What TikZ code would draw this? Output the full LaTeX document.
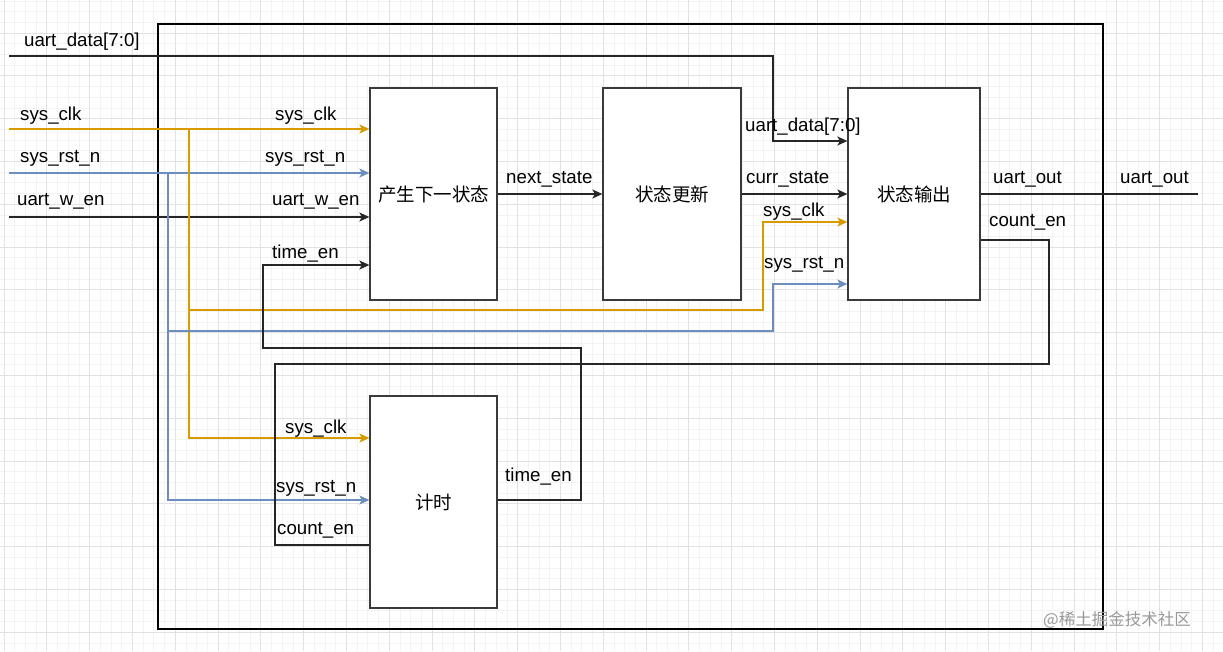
\documentclass[tikz,border=0pt]{standalone}
\usepackage{fontspec}
\setmainfont{Liberation Sans}
\newfontfamily\cjk{Noto Sans CJK SC}
\usetikzlibrary{arrows.meta,calc}
\definecolor{clkc}{HTML}{D79B00}
\definecolor{rstc}{HTML}{6C8EBF}
\definecolor{gmin}{HTML}{F3F3F3}
\definecolor{gmaj}{HTML}{E2E2E2}
\definecolor{boxc}{HTML}{3A3A3A}
\begin{document}
\begin{tikzpicture}[x=1pt,y=-1pt,
  font=\fontsize{18.7}{20}\selectfont,
  blk/.style={draw=boxc,line width=1.3pt,fill=white,inner sep=0pt,font=\fontsize{18.5}{20}\selectfont\cjk},
  wire/.style={line width=1.3pt,draw=black!85},
  clkw/.style={line width=1.3pt,draw=clkc},
  rstw/.style={line width=1.3pt,draw=rstc},
  arr/.style={-{Stealth[length=10pt,width=9pt,inset=2.5pt]}},
  lbl/.style={anchor=west,inner sep=0pt,text height=13pt,text depth=4pt}]
\useasboundingbox (0,0) rectangle (1223,651);
\fill[white] (0,0) rectangle (1223,651);
% grid
\foreach \i in {0,...,114} {\draw[gmin,line width=0.8pt] ({4+10.7*\i},0) -- ({4+10.7*\i},651);}
\foreach \i in {-3,...,58} {\draw[gmin,line width=0.8pt] (0,{33+10.7*\i}) -- (1223,{33+10.7*\i});}
\foreach \i in {0,...,28} {\draw[gmaj,line width=0.8pt] ({4+42.8*\i},0) -- ({4+42.8*\i},651);}
\foreach \i in {-1,...,14} {\draw[gmaj,line width=0.8pt] (0,{33+42.8*\i}) -- (1223,{33+42.8*\i});}
% frame
\node[draw=black,line width=2.4pt,minimum width=945pt,minimum height=605pt,inner sep=0pt,anchor=north west] (frame) at (157,23) {};
% blocks
\node[blk,minimum width=127pt,minimum height=212pt] (gen) at (433.5,194) {产生下一状态};
\node[blk,minimum width=138pt,minimum height=212pt] (upd) at (672,194) {状态更新};
\node[blk,minimum width=132pt,minimum height=212pt] (out) at (914,194) {状态输出};
\node[blk,minimum width=127pt,minimum height=212pt] (tim) at (433.5,502) {计时};
% free ends
\coordinate (datain) at (9,56);
\coordinate (clkin) at (9,129);
\coordinate (rstin) at (9,173);
\coordinate (wenin) at (9,217);
\coordinate (uoend) at (1198,194);
\coordinate (cb) at (189,129);
\coordinate (cb2) at (189,310);
\coordinate (rb) at (168,173);
\coordinate (rb2) at (168,331);
% connectors
\draw[wire,arr] (datain) -| (773,141) -- ($(out.west)+(0,-53)$);
\draw[clkw,arr] (clkin) -- ($(gen.west)+(0,-65)$);
\draw[rstw,arr] (rstin) -- ($(gen.west)+(0,-21)$);
\draw[wire,arr] (wenin) -- ($(gen.west)+(0,23)$);
\draw[clkw,arr] (cb) |- ($(tim.west)+(0,-64)$);
\draw[rstw,arr] (rb) |- ($(tim.west)+(0,-2)$);
\draw[clkw,arr] (cb2) -| (763,222) -- ($(out.west)+(0,28)$);
\draw[rstw,arr] (rb2) -| (773,284) -- ($(out.west)+(0,90)$);
\draw[wire,arr] (gen.east) -- (upd.west);
\draw[wire,arr] (upd.east) -- (out.west);
\draw[wire] (out.east) -- (uoend);
\draw[wire,arr] ($(tim.east)+(0,-2)$) -| (581,348) -| (263,265) -- ($(gen.west)+(0,71)$);
\draw[wire] ($(out.east)+(0,46)$) -| (1049,364) -| (275,545) -- ($(tim.west)+(0,43)$);
% redraw block borders on top
\foreach \n in {gen,upd,out,tim} {\draw[boxc,line width=1.3pt] (\n.north west) rectangle (\n.south east);}
% labels
\node[lbl] (l1) at (24,42) {uart\_data[7:0]};
\node[lbl] (l2) at (20,116) {sys\_clk};
\node[lbl] (l3) at (20,158) {sys\_rst\_n};
\node[lbl] (l4) at (17,201) {uart\_w\_en};
\node[lbl] (l5) at (275,116) {sys\_clk};
\node[lbl] (l6) at (265,158) {sys\_rst\_n};
\node[lbl] (l7) at (272,201) {uart\_w\_en};
\node[lbl] (l8) at (272,254) {time\_en};
\node[lbl] (l9) at (506,179) {next\_state};
\node[lbl] (l10) at (746,179) {curr\_state};
\node[lbl] (l11) at (745,127) {uart\_data[7:0]};
\node[lbl] (l12) at (763,212) {sys\_clk};
\node[lbl] (l13) at (764,264) {sys\_rst\_n};
\node[lbl] (l14) at (993,179) {uart\_out};
\node[lbl] (l15) at (989,222) {count\_en};
\node[lbl] (l16) at (1120,179) {uart\_out};
\node[lbl] (l17) at (285,429) {sys\_clk};
\node[lbl] (l18) at (276,488) {sys\_rst\_n};
\node[lbl] (l19) at (277,530) {count\_en};
\node[lbl] (l20) at (505,477) {time\_en};
\node[lbl,text=black!40,font=\fontsize{16.5}{18}\selectfont\cjk] (wm) at (1043,621) {@稀土掘金技术社区};
\end{tikzpicture}
\end{document}
